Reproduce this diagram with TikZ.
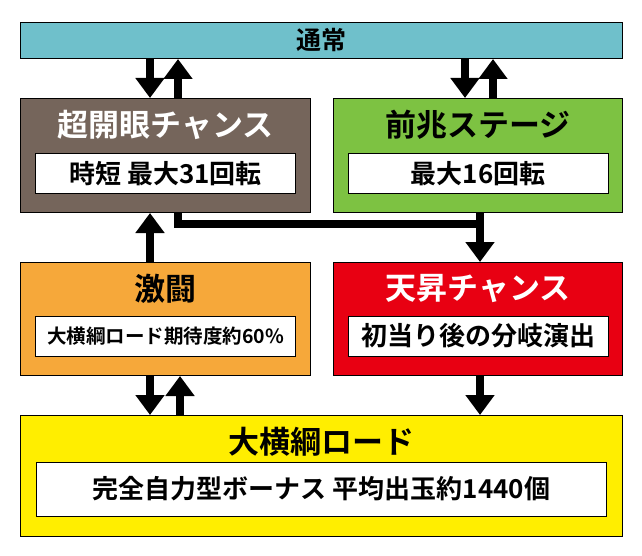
\documentclass[tikz,border=0pt]{standalone}
\usepackage{fontspec}
\setmainfont{Noto Sans CJK JP}[BoldFont={Noto Sans CJK JP Bold}]
\usetikzlibrary{arrows.meta, positioning, calc}
\definecolor{tsujo}{RGB}{111, 192, 203}
\definecolor{kaigan}{RGB}{117, 101, 91}
\definecolor{zencho}{RGB}{125, 194, 66}
\definecolor{gekito}{RGB}{246, 168, 58}
\definecolor{tensho}{RGB}{232, 0, 18}
\definecolor{yokozuna}{RGB}{255, 238, 0}

\begin{document}
\begin{tikzpicture}[
    x=1pt, y=-1pt,
    panel/.style={draw, line width=1pt, anchor=north west, inner sep=0pt},
    title/.style={font=\bfseries\fontsize{31}{31}\selectfont},
    inbox/.style={draw, fill=white, line width=1pt, minimum height=40pt, inner sep=2pt, font=\bfseries\fontsize{26}{26}\selectfont},
    arrow/.style={-{Triangle[width=28pt, length=20pt]}, line width=8pt}
]
    \useasboundingbox (0,0) rectangle (642,556);
    \node[panel, fill=tsujo, minimum width=602pt, minimum height=36pt] (normal) at (20,22) {};
    \node[font=\bfseries\fontsize{25}{25}\selectfont] at (normal.center) {通常};
    % second row
    \node[panel, fill=kaigan, minimum width=290pt, minimum height=114pt] (kaigan) at (20,98) {};
    \node[panel, fill=zencho, minimum width=289pt, minimum height=114pt] (zencho) at (333,98) {};
    \node[title, text=white] (kaigantitle) at ($(kaigan.north)+(0,27)$) {超開眼チャンス};
    \node[title] (zenchotitle) at ($(zencho.north)+(0,27)$) {前兆ステージ};
    \node[inbox, minimum width=260pt] (kaiganin) at ($(kaigan.north)+(0,76)$) {時短 最大31回転};
    \node[inbox, minimum width=260pt] (zenchoin) at ($(zencho.north)+(0,76)$) {最大16回転};
    % third row
    \node[panel, fill=gekito, minimum width=290pt, minimum height=113pt] (gekito) at (20,262) {};
    \node[panel, fill=tensho, minimum width=289pt, minimum height=113pt] (tensho) at (333,262) {};
    \node[title] (gekitotitle) at ($(gekito.north)+(0,27)$) {激闘};
    \node[title, text=white] (tenshotitle) at ($(tensho.north)+(0,27)$) {天昇チャンス};
    \node[inbox, minimum width=260pt, font=\bfseries\fontsize{19.5}{20}\selectfont] (gekitoin) at ($(gekito.north)+(0,74)$) {大横綱ロード期待度約60\%};
    \node[inbox, minimum width=260pt] (tenshoin) at ($(tensho.north)+(0,74)$) {初当り後の分岐演出};
    % bottom
    \node[panel, fill=yokozuna, minimum width=602pt, minimum height=121pt] (yokozuna) at (20,415) {};
    \node[title] (yokozunatitle) at ($(yokozuna.north)+(0,27)$) {大横綱ロード};
    \node[inbox, minimum width=570pt, minimum height=54pt] (yokozunain) at ($(yokozuna.north)+(0,74)$) {完全自力型ボーナス\ 平均出玉約1440個};

    \draw[arrow] (normal.south -| 150,0) -- (kaigan.north -| 150,0);
    \draw[arrow] (kaigan.north -| 178,0) -- (normal.south -| 178,0);
    \draw[arrow] (normal.south -| 465,0) -- (zencho.north -| 465,0);
    \draw[arrow] (zencho.north -| 493,0) -- (normal.south -| 493,0);
    \draw[arrow] (kaigan.south -| 178,0) |- (230,224) -| (tensho.north -| 480,0);
    \draw[line width=8pt] (zencho.south -| 480,0) -- (480,228);
    \draw[arrow] (gekito.north -| 150,0) -- (kaigan.south -| 150,0);
    \draw[arrow] (gekito.south -| 150,0) -- (yokozuna.north -| 150,0);
    \draw[arrow] (yokozuna.north -| 180,0) -- (gekito.south -| 180,0);
    \draw[arrow] (tensho.south -| 480,0) -- (yokozuna.north -| 480,0);
\end{tikzpicture}
\end{document}
